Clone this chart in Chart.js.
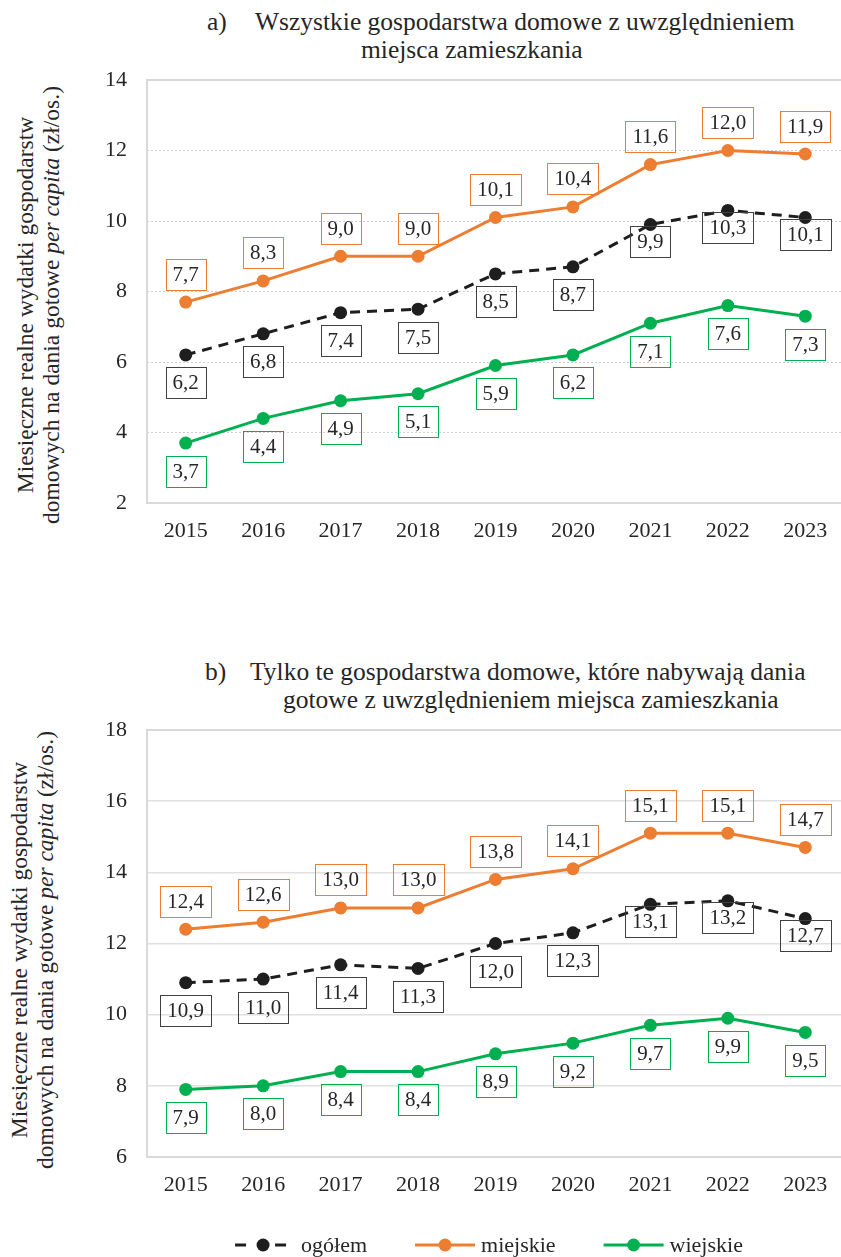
<!DOCTYPE html>
<html lang="pl">
<head>
<meta charset="utf-8">
<script src="https://cdn.jsdelivr.net/npm/chart.js@4.4.1/dist/chart.umd.min.js"></script>
<style>
  html, body { margin: 0; padding: 0; background: #fff; overflow: hidden; width: 841px; height: 1257px; }
  body { position: relative; font-family: "Liberation Serif", "Times New Roman", serif; color: #262626; }
  canvas { position: absolute; left: 0; }
  .t { position: absolute; font-size: 25.5px; line-height: 28px; white-space: nowrap; }
  .yt { position: absolute; width: 520px; height: 52px; font-size: 23.5px; line-height: 26px;
        text-align: center; white-space: nowrap; transform: rotate(-90deg); }
</style>
</head>
<body>
<div class="t" style="left:207px;top:8px">a)</div>
<div class="t" style="left:255px;top:8px">Wszystkie gospodarstwa domowe z uwzględnieniem</div>
<div class="t" style="left:361px;top:36px">miejsca zamieszkania</div>
<div class="yt" style="left:-222px;top:279px">Miesięczne realne wydatki gospodarstw<br>domowych na dania gotowe <i>per capita</i> (zł/os.)</div>
<canvas id="chartA" width="860" height="560" style="top:0"></canvas>

<div class="t" style="left:205px;top:658px">b)</div>
<div class="t" style="left:250px;top:658px">Tylko te gospodarstwa domowe, które nabywają dania</div>
<div class="t" style="left:283px;top:686px">gotowe z uwzględnieniem miejsca zamieszkania</div>
<div class="yt" style="left:-228px;top:924px">Miesięczne realne wydatki gospodarstw<br>domowych na dania gotowe <i>per capita</i> (zł/os.)</div>
<canvas id="chartB" width="860" height="607" style="top:650px"></canvas>

<script>
const years = ['2015', '2016', '2017', '2018', '2019', '2020', '2021', '2022', '2023'];
const seriesNames = ['ogółem', 'miejskie', 'wiejskie'];

// a) all households
const allTotal = [6.2, 6.8, 7.4, 7.5, 8.5, 8.7, 9.9, 10.3, 10.1];
const allUrban = [7.7, 8.3, 9.0, 9.0, 10.1, 10.4, 11.6, 12.0, 11.9];
const allRural = [3.7, 4.4, 4.9, 5.1, 5.9, 6.2, 7.1, 7.6, 7.3];
const ticksA = [2, 4, 6, 8, 10, 12, 14];

// b) only households buying ready meals
const buyTotal = [10.9, 11.0, 11.4, 11.3, 12.0, 12.3, 13.1, 13.2, 12.7];
const buyUrban = [12.4, 12.6, 13.0, 13.0, 13.8, 14.1, 15.1, 15.1, 14.7];
const buyRural = [7.9, 8.0, 8.4, 8.4, 8.9, 9.2, 9.7, 9.9, 9.5];
const ticksB = [6, 8, 10, 12, 14, 16, 18];

const BLACK = '#1e1e1e';
const ORANGE = '#ED7D31';
const GREEN = '#00B050';
const TEXT = '#262626';
const FONT = '"Liberation Serif", "Times New Roman", serif';

// boxed value labels, drawn on top of the lines
const boxLabels = {
  id: 'boxLabels',
  afterDatasetsDraw(chart) {
    const ctx = chart.ctx;
    ctx.save();
    ctx.font = '21px ' + FONT;
    ctx.textAlign = 'center';
    ctx.textBaseline = 'middle';
    chart.data.datasets.forEach((ds, di) => {
      const meta = chart.getDatasetMeta(di);
      meta.data.forEach((pt, i) => {
        const txt = ds.data[i].toFixed(1).replace('.', ',');
        const w = Math.round(ctx.measureText(txt).width + 14);
        const h = 31;
        const cx = pt.x;
        const cy = pt.y + ds.labelShift(i);
        ctx.strokeStyle = ds.labelBorder;
        ctx.lineWidth = 1;
        ctx.strokeRect(Math.round(cx - w / 2) + 0.5, Math.round(cy - h / 2) + 0.5, w, h);
        ctx.fillStyle = TEXT;
        ctx.fillText(txt, cx, cy + 1);
      });
    });
    ctx.restore();
  }
};

// grey frame around the plot area
const plotFrame = {
  id: 'plotFrame',
  beforeDatasetsDraw(chart) {
    const a = chart.chartArea;
    const ctx = chart.ctx;
    ctx.save();
    ctx.strokeStyle = '#d9d9d9';
    ctx.lineWidth = 2;
    ctx.strokeRect(a.left, a.top, a.right - a.left, a.bottom - a.top);
    ctx.restore();
  }
};

// legend below the chart: line + dot marker, then series name
const lineLegend = {
  id: 'lineLegend',
  afterDraw(chart, args, opts) {
    if (!opts.show) return;
    const ctx = chart.ctx;
    ctx.save();
    ctx.font = '22px ' + FONT;
    ctx.textBaseline = 'middle';
    ctx.textAlign = 'left';
    const dss = chart.data.datasets;
    const markW = 60, markGap = 6, itemGap = 48;
    const widths = dss.map(d => markW + markGap + ctx.measureText(d.label).width);
    const total = widths.reduce((a, b) => a + b, 0) + itemGap * (dss.length - 1);
    let x = opts.centerX - total / 2;
    const y = opts.y;
    dss.forEach((d, i) => {
      ctx.strokeStyle = d.borderColor;
      ctx.fillStyle = d.borderColor;
      ctx.lineWidth = 3;
      ctx.beginPath();
      if (d.borderDash) {
        ctx.moveTo(x, y); ctx.lineTo(x + 11, y);
        ctx.moveTo(x + 40, y); ctx.lineTo(x + 51, y);
      } else {
        ctx.moveTo(x, y); ctx.lineTo(x + markW, y);
      }
      ctx.stroke();
      ctx.beginPath();
      ctx.arc(x + (d.borderDash ? 28 : 30), y, 6.5, 0, Math.PI * 2);
      ctx.fill();
      ctx.fillStyle = TEXT;
      ctx.fillText(d.label, x + markW + markGap, y + 1);
      x += widths[i] + itemGap;
    });
    ctx.restore();
  }
};

function makeChart(id, total, urban, rural, yTicks, gridStyle, withLegend) {
  const below = 28;
  const datasets = [
    { label: seriesNames[0], data: total, borderColor: BLACK, backgroundColor: BLACK, borderDash: [10, 7],
      labelBorder: '#404040', labelShift: i => (i >= 6 ? 17 : below) },
    { label: seriesNames[1], data: urban, borderColor: ORANGE, backgroundColor: ORANGE,
      labelBorder: ORANGE, labelShift: () => -28 },
    { label: seriesNames[2], data: rural, borderColor: GREEN, backgroundColor: GREEN,
      labelBorder: GREEN, labelShift: () => below }
  ];
  datasets.forEach(d => {
    d.borderWidth = 3;
    d.pointRadius = 6.5;
    d.pointBorderWidth = 0;
    d.pointHoverRadius = 6.5;
    d.tension = 0;
    d.fill = false;
  });

  return new Chart(document.getElementById(id), {
    type: 'line',
    data: { labels: years, datasets: datasets },
    options: {
      responsive: false,
      animation: false,
      devicePixelRatio: 1,
      layout: { padding: { left: 0, right: 16, top: 80, bottom: withLegend ? 43 : 0 } },
      scales: {
        x: {
          type: 'category',
          offset: true,
          grid: { display: false, drawTicks: false },
          border: { display: false },
          ticks: { font: { family: FONT, size: 22 }, color: TEXT, padding: 15, maxRotation: 0 },
          afterFit: s => { s.height = 57; }
        },
        y: {
          min: yTicks[0],
          max: yTicks[yTicks.length - 1],
          grid: { color: gridStyle.color, lineWidth: gridStyle.width, drawTicks: false },
          border: { display: false, dash: gridStyle.dash },
          ticks: { stepSize: yTicks[1] - yTicks[0], font: { family: FONT, size: 22 }, color: TEXT, padding: 20 },
          afterFit: s => { s.width = 147; }
        }
      },
      plugins: {
        tooltip: { enabled: false },
        title: { display: false },
        legend: { display: false },
        lineLegend: { show: withLegend, centerX: 489, y: 595 }
      }
    },
    plugins: [plotFrame, boxLabels, lineLegend]
  });
}

const charts = [
  makeChart('chartA', allTotal, allUrban, allRural, ticksA, { color: '#cfcfcf', width: 1, dash: [2, 2] }, false),
  makeChart('chartB', buyTotal, buyUrban, buyRural, ticksB, { color: '#e0e0e0', width: 1.5, dash: [] }, true)
];

// redraw once the serif face is ready so canvas text uses it
Promise.all([
  document.fonts.load('22px "Liberation Serif"'),
  document.fonts.load('italic 22px "Liberation Serif"')
]).then(() => charts.forEach(c => c.update()));
</script>
</body>
</html>
